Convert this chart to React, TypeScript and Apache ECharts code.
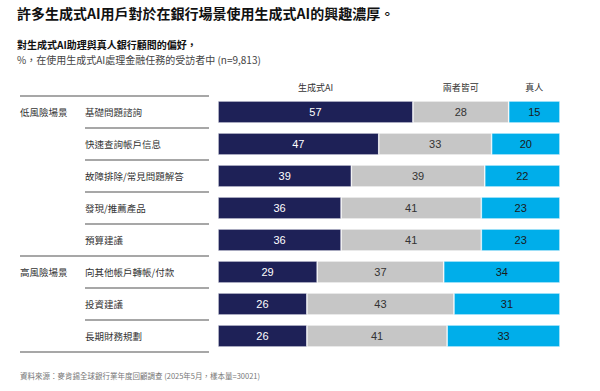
import React, { useEffect, useRef } from "react";
import * as echarts from "echarts";

const categories = [
  "基礎問題諮詢",
  "快速查詢帳戶信息",
  "故障排除/常見問題解答",
  "發現/推薦產品",
  "預算建議",
  "向其他帳戶轉帳/付款",
  "投資建議",
  "長期財務規劃",
];
const groups = [
  { name: "低風險場景", start: 0, count: 5 },
  { name: "高風險場景", start: 5, count: 3 },
];
const seriesNames = ["生成式AI", "兩者皆可", "真人"];
const aiValues = [57, 47, 39, 36, 36, 29, 26, 26];
const bothValues = [28, 33, 39, 41, 41, 37, 43, 41];
const humanValues = [15, 20, 22, 23, 23, 34, 31, 33];

const colors = ["#1e2157", "#c6c6c6", "#00aeea"];
const labelColors = ["#ffffff", "#333333", "#1a1a1a"];

const CJK = '"Noto Sans CJK TC", "Noto Sans CJK SC", sans-serif';
const NUM = '"Liberation Sans", Arial, sans-serif';

export default function App() {
  const ref = useRef<HTMLDivElement>(null);
  useEffect(() => {
    if (!ref.current) return;
    const chart = echarts.init(ref.current, null, { renderer: "svg" });
    const gridLeft = 218;
    const gridWidth = 342;
    const gridTop = 96;
    const rowH = 32;
    const gridHeight = rowH * categories.length;

    const graphics: any[] = [
      {
        type: "text",
        left: 17,
        top: 6,
        style: { text: "許多生成式AI用戶對於在銀行場景使用生成式AI的興趣濃厚。", font: `bold 14px ${CJK}`, fill: "#111" },
      },
      {
        type: "text",
        left: 17,
        top: 39,
        style: { text: "對生成式AI助理與真人銀行顧問的偏好，", font: `bold 10px ${CJK}`, fill: "#111" },
      },
      {
        type: "text",
        left: 17,
        top: 54,
        style: { text: "%，在使用生成式AI處理金融任務的受訪者中 (n=9,813)", font: `10px ${CJK}`, fill: "#444" },
      },
      {
        type: "text",
        left: 20,
        top: 372,
        style: { text: "資料來源：麥肯錫全球銀行業年度回顧調查 (2025年5月，樣本量=30021)", font: `7.5px ${CJK}`, fill: "#777" },
      },
    ];

    const firstRow = [aiValues[0], bothValues[0], humanValues[0]];
    let cum = 0;
    firstRow.forEach((v, i) => {
      const cx = gridLeft + ((cum + v / 2) / 100) * gridWidth;
      cum += v;
      graphics.push({
        type: "text",
        x: cx,
        y: 87,
        style: { text: seriesNames[i], font: `9px ${CJK}`, fill: "#333", align: "center", verticalAlign: "middle" },
      });
    });

    const lineStyle = { stroke: "#8a8a8a", lineWidth: 1.5 };
    for (let i = 0; i <= categories.length; i++) {
      const y = gridTop + i * rowH;
      const isGroupEdge = i === 0 || groups.some((g) => g.start === i || g.start + g.count === i);
      graphics.push({
        type: "line",
        shape: { x1: isGroupEdge ? 20 : 85, y1: y, x2: 209, y2: y },
        style: lineStyle,
      });
    }
    groups.forEach((g) => {
      graphics.push({
        type: "text",
        x: 20,
        y: gridTop + g.start * rowH + rowH / 2,
        style: { text: g.name, font: `9.5px ${CJK}`, fill: "#333", verticalAlign: "middle" },
      });
    });

    const data = [aiValues, bothValues, humanValues];
    chart.setOption({
      animation: false,
      grid: { left: gridLeft, width: gridWidth, top: gridTop, height: gridHeight },
      xAxis: { type: "value", min: 0, max: 100, show: false },
      yAxis: {
        type: "category",
        data: categories,
        inverse: true,
        axisLine: { show: false },
        axisTick: { show: false },
        axisLabel: {
          align: "left",
          margin: gridLeft - 85,
          fontFamily: CJK,
          fontSize: 9.5,
          color: "#333",
        },
      },
      series: data.map((vals, i) => ({
        name: seriesNames[i],
        type: "bar",
        stack: "total",
        barWidth: 22,
        data: vals,
        itemStyle: { color: colors[i], borderColor: "#ffffff", borderWidth: 0.6 },
        label: {
          show: true,
          position: "inside",
          color: labelColors[i],
          fontFamily: NUM,
          fontSize: 11,
        },
      })),
      graphic: graphics,
    });
    return () => chart.dispose();
  }, []);
  return (
    <div
      ref={ref}
      style={{ position: "fixed", left: 0, top: 0, width: 600, height: 391, background: "#fff" }}
    />
  );
}
